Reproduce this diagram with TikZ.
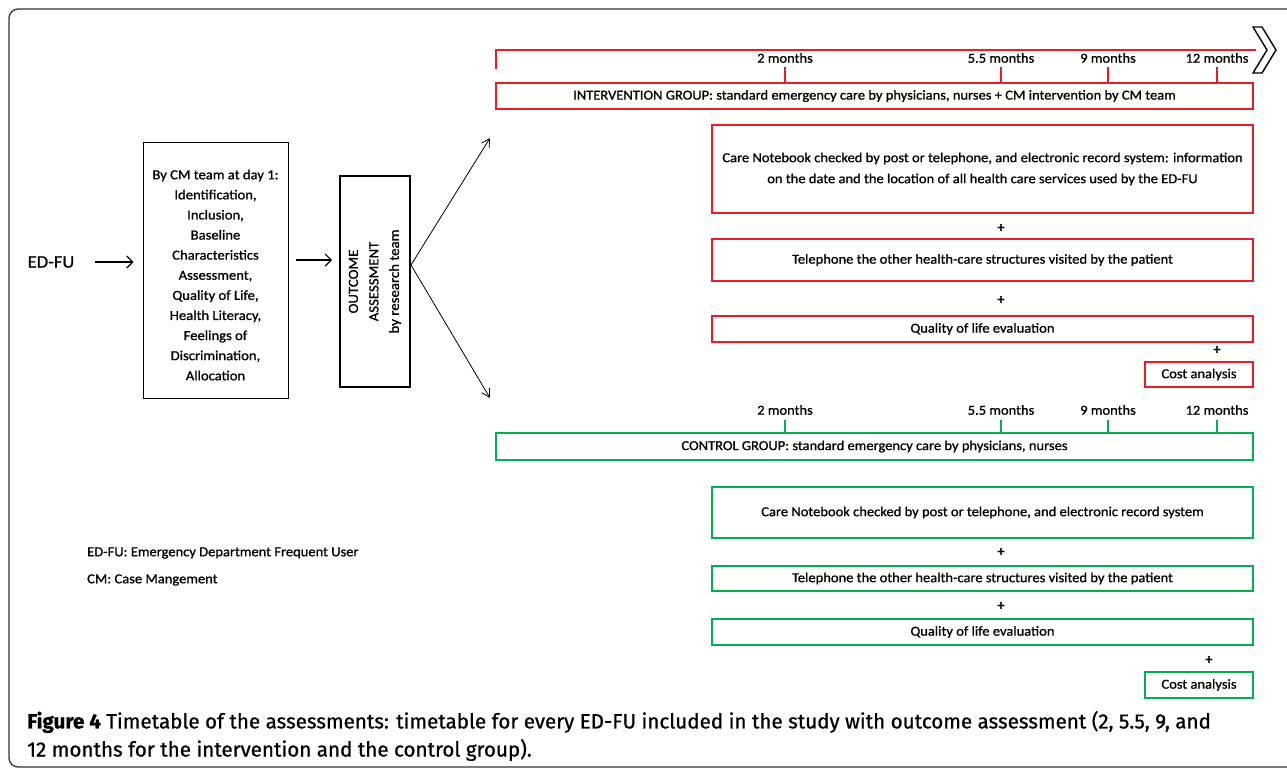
\documentclass[tikz,border=0pt]{standalone}
\usepackage{fontspec}
\setmainfont[FakeStretch=1.06,FakeBold=1]{Carlito}
\newfontfamily\capfont[FakeBold=0.8]{Fira Sans}
\usetikzlibrary{arrows.meta}
\definecolor{ired}{RGB}{237,28,36}
\definecolor{cgreen}{RGB}{0,176,80}
\definecolor{framegray}{RGB}{50,50,50}
\begin{document}
\begin{tikzpicture}[x=1pt,y=-1pt,
  txt/.style={font=\fontsize{13.7}{16}\selectfont, inner sep=0pt},
  rbox/.style={draw=ired, line width=1.8pt, inner sep=0pt, align=center, font=\fontsize{13.7}{21}\selectfont},
  gbox/.style={draw=cgreen, line width=1.8pt, inner sep=0pt, align=center, font=\fontsize{13.7}{21}\selectfont},
  rline/.style={draw=ired, line width=1.8pt},
  gline/.style={draw=cgreen, line width=1.8pt},
  bigarr/.style={line width=1.2pt, -{Straight Barb[length=6pt,width=12pt]}},
  thinarr/.style={line width=0.8pt, -{Straight Barb[length=8pt,width=9pt]}},
  plus/.style={font=\bfseries\fontsize{13.7}{16}\selectfont, inner sep=0pt}
]
\useasboundingbox (0,0) rectangle (1287,769);
\begin{scope}
\clip (0,0) rectangle (1287,769);
\draw[framegray, line width=1.3pt, rounded corners=9pt] (9,9) rectangle (1310,767);
\end{scope}

% left part
\node[txt, font=\fontsize{17.5}{20}\selectfont] (edfu) at (51,262) {ED-FU};
\node[draw, line width=0.9pt, minimum width=145, minimum height=256, inner sep=0pt] (box1) at (215.5,270) {};
\node[txt, align=center, font=\fontsize{13.8}{20.1}\selectfont] (box1t) at ([yshift=-5pt]box1.center) {By CM team at day 1:\\Identification,\\Inclusion,\\Baseline\\Characteristics\\Assessment,\\Quality of Life,\\Health Literacy,\\Feelings of\\Discrimination,\\Allocation};
\node[draw, line width=2pt, minimum width=70, minimum height=211, inner sep=0pt] (oa) at (375,281.5) {};
\node[txt, rotate=90, align=center, font=\fontsize{14}{20.5}\selectfont] (oat) at (oa.center) {OUTCOME\\ASSESSMENT\\by research team};
\coordinate (ya) at (0,262);
\coordinate (yb) at (0,260);
\coordinate (yc) at (0,265);
\draw[bigarr] ([xshift=21pt]edfu.east |- ya) -- ([xshift=-9pt]box1.west |- ya);
\draw[bigarr] ([xshift=8pt]box1.east |- yb) -- ([xshift=-7pt]oa.west |- yb);
\coordinate (up) at (490,138);
\coordinate (dn) at (490,398);
\draw[thinarr] (oa.east |- yc) -- (up);
\draw[thinarr] (oa.east |- yc) -- (dn);

% legend
\node[txt, anchor=west] (leg1) at (87,553) {ED-FU: Emergency Department Frequent User};
\node[txt, anchor=west] (leg2) at (87,580) {CM: Case Mangement};

% intervention timeline
\coordinate (tl0) at (496,69);
\coordinate (tl1) at (496,50);
\coordinate (tl2) at (1256,50);
\draw[rline] (tl0) -- (tl1) -- (tl2);
\draw[line width=1.4pt, fill=white] (1253,27) -- (1262,27) -- (1276,50) -- (1262,73) -- (1253,73) -- (1267,50) -- cycle;
\node[rbox, minimum width=757, minimum height=26] (ibox) at (874.5,96) {INTERVENTION GROUP: standard emergency care by physicians, nurses + CM intervention by CM team};
\foreach \x/\lab/\n in {785/2 months/a,1001/5.5 months/b,1108/9 months/c,1217/12 months/d}{
  \node[txt] (il\n) at (\x,58) {\lab};
  \coordinate (it\n) at (\x,67);
  \draw[rline] (it\n) -- (it\n |- ibox.north);
}
\node[rbox, minimum width=541, minimum height=88] (ic1) at (982.5,169) {Care Notebook checked by post or telephone, and electronic record system: information\\on the date and the location of all health care services used by the ED-FU};
\node[plus] (ip1) at (1001,228) {+};
\node[rbox, minimum width=541, minimum height=42] (ic2) at (982.5,260) {Telephone the other health-care structures visited by the patient};
\node[plus] (ip2) at (1001,300) {+};
\node[rbox, minimum width=541, minimum height=26] (ic3) at (982.5,329) {Quality of life evaluation};
\node[plus] (ip3) at (1217,350) {+};
\node[rbox, minimum width=108, minimum height=25] (ic4) at (1199,374.5) {Cost analysis};

% control timeline
\node[gbox, minimum width=757, minimum height=27] (cbox) at (874.5,446.5) {CONTROL GROUP: standard emergency care by physicians, nurses};
\foreach \x/\lab/\n in {785/2 months/a,1001/5.5 months/b,1108/9 months/c,1217/12 months/d}{
  \node[txt] (cl\n) at (\x,410) {\lab};
  \coordinate (ct\n) at (\x,420);
  \draw[gline] (ct\n) -- (ct\n |- cbox.north);
}
\node[gbox, minimum width=541, minimum height=51] (cc1) at (982.5,512.5) {Care Notebook checked by post or telephone, and electronic record system};
\node[plus] (cp1) at (1001,552) {+};
\node[gbox, minimum width=541, minimum height=25] (cc2) at (982.5,578.5) {Telephone the other health-care structures visited by the patient};
\node[plus] (cp2) at (1001,606) {+};
\node[gbox, minimum width=541, minimum height=26] (cc3) at (982.5,632) {Quality of life evaluation};
\node[plus] (cp3) at (1209,660) {+};
\node[gbox, minimum width=108, minimum height=26] (cc4) at (1199,685) {Cost analysis};

% caption
\node[anchor=west, inner sep=0pt, font=\capfont\fontsize{20.6}{24}\selectfont] (cap1) at (27,722) {\textbf{Figure 4} Timetable of the assessments: timetable for every ED-FU included in the study with outcome assessment (2, 5.5, 9, and};
\node[anchor=west, inner sep=0pt, font=\capfont\fontsize{20.6}{24}\selectfont] (cap2) at (27,750) {12 months for the intervention and the control group).};
\end{tikzpicture}
\end{document}
